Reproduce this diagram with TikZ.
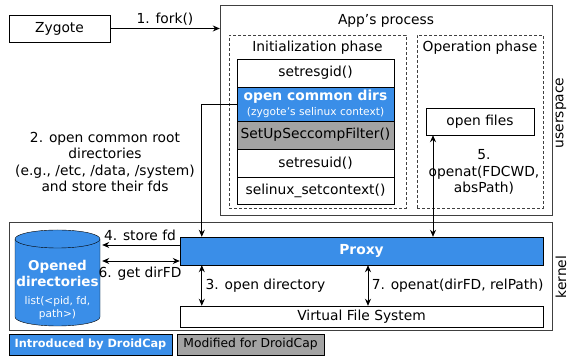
\documentclass[tikz,border=0pt]{standalone}
\usepackage{fontspec}
\setmainfont{DejaVu Sans}
\usetikzlibrary{arrows.meta}
\definecolor{dcblue}{HTML}{3A8EE8}
\definecolor{dcgray}{HTML}{A3A3A3}
\newcommand{\smalltxt}{\fontsize{10.6}{12}\selectfont}
\begin{document}
\begin{tikzpicture}[x=1pt,y=1pt,
    every node/.style={font=\fontsize{13.8}{16.6}\selectfont},
    box/.style={draw, inner sep=0pt, minimum height=27pt},
    area/.style={draw=black!75, inner sep=0pt},
    phase/.style={draw=black!75, dash pattern=on 3pt off 2pt, inner sep=0pt},
    bluebox/.style={box, fill=dcblue, text=white, font=\fontsize{13.8}{16.6}\selectfont\bfseries},
    graybox/.style={box, fill=dcgray},
    arr/.style={line width=0.9pt, -{Stealth[length=7pt,width=6pt]}},
    dbl/.style={line width=0.9pt, {Stealth[length=7pt,width=6pt]}-{Stealth[length=7pt,width=6pt]}}]
    \useasboundingbox (0,0) rectangle (571,358);
    % userspace
    \node[box, minimum width=101pt] (zygote) at (59.5,329.5) {Zygote};
    \node[area, minimum width=332pt, minimum height=210pt] (app) at (386,248) {};
    \node (apptitle) at (386,337) {App’s process};
    \node[phase, minimum width=177pt, minimum height=173pt] (init) at (317.5,236.5) {};
    \node[phase, minimum width=126pt, minimum height=173pt] (oper) at (480,236.5) {};
    \node (inittitle) at (317.5,310) {Initialization phase};
    \node (opertitle) at (480,310) {Operation phase};
    \node[box, minimum width=157pt, minimum height=28pt] (gid) at (315.5,285) {setresgid()};
    \node[bluebox, minimum width=157pt, minimum height=34pt, align=center] (opendirs) at (315.5,254)
        {open common dirs\\[-2pt]{\smalltxt\mdseries (zygote’s selinux context)}};
    \node[graybox, minimum width=157pt, minimum height=28pt] (seccomp) at (315.5,223) {SetUpSeccompFilter()};
    \node[box, minimum width=157pt, minimum height=28pt] (uid) at (315.5,195) {setresuid()};
    \node[box, minimum width=157pt] (ctx) at (315.5,167.5) {selinux\_setcontext()};
    \node[box, minimum width=108pt] (openfiles) at (480,236.5) {open files};
    \node[rotate=90] (user) at (561,245) {userspace};

    % kernel
    \node[area, minimum width=543pt, minimum height=108pt] (kern) at (280.5,82) {};
    \node[bluebox, minimum width=363pt, minimum height=28pt] (proxy) at (361.5,107) {Proxy};
    \node[box, minimum width=363pt, minimum height=21pt] (vfs) at (361.5,41.5) {Virtual File System};
    \node[minimum width=85pt, minimum height=96pt, inner sep=0pt] (dirs) at (57.5,80) {};
    \filldraw[fill=dcblue] (15,119) -- (15,41) arc[start angle=180, end angle=360, x radius=42.5, y radius=9]
        -- (100,119) arc[start angle=0, end angle=180, x radius=42.5, y radius=9] -- cycle;
    \draw (15,119) arc[start angle=180, end angle=360, x radius=42.5, y radius=9];
    \node[align=center, text=white, font=\fontsize{13.5}{16}\selectfont\bfseries] (dirstext) at (57.5,68)
        {Opened\\directories\\[2pt]{\smalltxt\mdseries list(<pid, fd,}\\[-3pt]{\smalltxt\mdseries path>)}};
    \node[rotate=90] (kernlabel) at (561,81) {kernel};

    % legend
    \node[bluebox, font=\fontsize{11.3}{13}\selectfont\bfseries, minimum width=163pt, minimum height=21pt] (legblue) at (90.5,13.5) {Introduced by DroidCap};
    \node[graybox, font=\fontsize{12.3}{13}\selectfont, minimum width=147pt, minimum height=21pt] (leggray) at (250.5,13.5) {Modified for DroidCap};

    % connectors
    \draw[arr] (zygote.east) -- (zygote.east -| app.west) node[midway, above=-1pt] {1. fork()};
    \draw[arr] (opendirs.west) -| ([xshift=22pt]proxy.north west);
    \node[align=center] (step2) at (105,196) {2. open common root\\directories\\(e.g., /etc, /data, /system)\\and store their fds};
    \draw[dbl] ([xshift=22pt]proxy.south west) -- ([xshift=22pt]vfs.north west) node[midway, right] {3. open directory};
    \draw[arr, shorten >=2pt] ([yshift=6pt]proxy.west) -- ([yshift=6pt]proxy.west -| dirs.east) node[midway, above=1pt] {4. store fd};
    \draw[dbl] ([xshift=-47pt]openfiles.south) -- ([xshift=-47pt]openfiles.south |- proxy.north);
    \node[align=center] (step5) at (484,186) {5.\\openat(FDCWD,\\absPath)};
    \draw[dbl, shorten <=2pt] ([yshift=-10pt]proxy.west -| dirs.east) -- ([yshift=-10pt]proxy.west) node[midway, below=2pt] {6. get dirFD};
    \draw[dbl] ([xshift=6.5pt]proxy.south) -- ([xshift=6.5pt]vfs.north) node[midway, right] {7. openat(dirFD, relPath)};
\end{tikzpicture}
\end{document}
